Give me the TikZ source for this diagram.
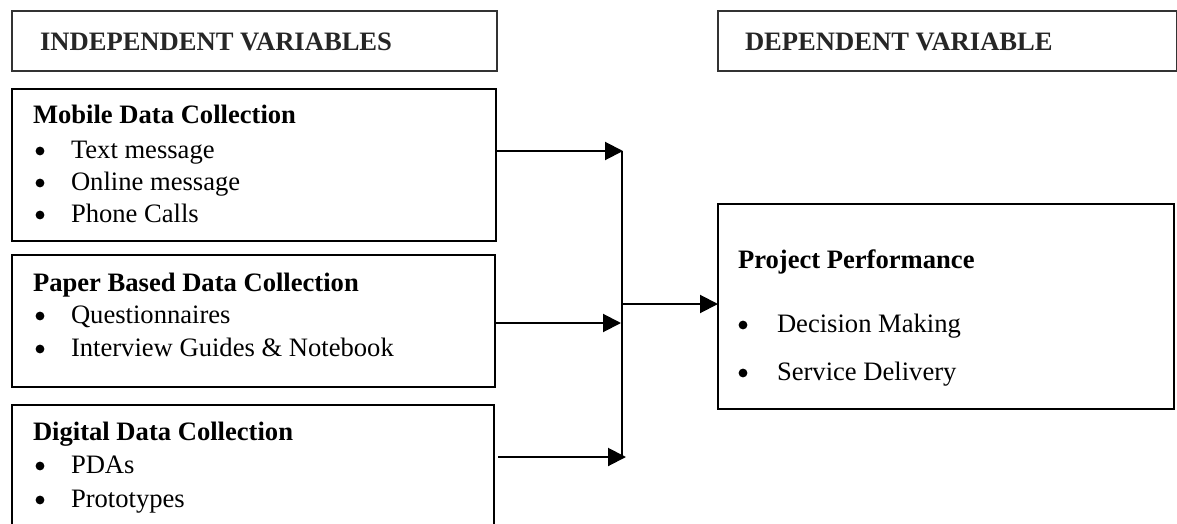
\documentclass[tikz,border=0pt]{standalone}
\usepackage{fontspec}
\setmainfont{Liberation Serif}
\usetikzlibrary{arrows.meta,fit}
\begin{document}
\begin{tikzpicture}[x=0.5pt,y=-0.5pt,
  every node/.style={font=\fontsize{13.3}{16}\selectfont},
  hbox/.style={draw=black!80, line width=0.6pt, inner sep=0pt, outer sep=0pt},
  vbox/.style={draw=black, line width=0.8pt, inner sep=0pt, outer sep=0pt},
  txt/.style={anchor=base west, inner sep=0pt, outer sep=0pt},
  head/.style={txt, font=\fontsize{13.3}{16}\selectfont\bfseries},
  bul/.style={circle, fill=black, inner sep=0pt, outer sep=0pt, minimum size=4.4pt},
  arr/.style={draw=black, line width=1pt, -{Triangle[length=9pt,width=9pt]}},
  conn/.style={draw=black, line width=1pt}]
\useasboundingbox (0,0) rectangle (1177,524);
\clip (0,0) rectangle (1177,524);
% header boxes
\node[hbox, fit={(12,11) (497,71)}] (indep) {};
\node[hbox, fit={(718,11) (1176.5,71)}] (dep) {};
\node[head, font=\fontsize{13.3}{16}\selectfont\bfseries\color{black!85}] (indept) at (40,51) {INDEPENDENT VARIABLES};
\node[head, font=\fontsize{13.3}{16}\selectfont\bfseries\color{black!85}] (dept) at (745,51) {DEPENDENT VARIABLE};
% variable boxes
\node[vbox, fit={(12,89) (496,241)}] (mob) {};
\node[vbox, fit={(12,255) (495,387)}] (pap) {};
\node[vbox, fit={(12,405) (494,560)}] (dig) {};
\node[vbox, fit={(718,204) (1174,409)}] (proj) {};
% mobile text
\node[head] (mobh) at (33,124) {Mobile Data Collection};
\node[bul] (mb1) at (40,151) {};
\node[txt] (mt1) at (71,158) {Text message};
\node[bul] (mb2) at (40,183) {};
\node[txt] (mt2) at (71,190) {Online message};
\node[bul] (mb3) at (40,215) {};
\node[txt] (mt3) at (71,222) {Phone Calls};
% paper text
\node[head] (paph) at (33,291) {Paper Based Data Collection};
\node[bul] (pb1) at (40,316) {};
\node[txt] (pt1) at (71,323) {Questionnaires};
\node[bul] (pb2) at (40,349) {};
\node[txt] (pt2) at (71,356) {Interview Guides \& Notebook};
% digital text
\node[head] (digh) at (33,440) {Digital Data Collection};
\node[bul] (db1) at (40,466) {};
\node[txt] (dt1) at (71,473) {PDAs};
\node[bul] (db2) at (40,500) {};
\node[txt] (dt2) at (71,507) {Prototypes};
% project text
\node[head] (projh) at (738,268) {Project Performance};
\node[bul] (jb1) at (743,325) {};
\node[txt] (jt1) at (777,332) {Decision Making};
\node[bul] (jb2) at (743,373) {};
\node[txt] (jt2) at (777,380) {Service Delivery};
% connectors
\coordinate (j1) at (623,151);
\coordinate (j2) at (621,323);
\coordinate (j3) at (626,457);
\coordinate (v1) at (622,151);
\coordinate (v3) at (622,457);
\coordinate (vo) at (622,304);
\coordinate (d3) at (498,457);
\draw[arr] (mob.east |- j1) -- (j1);
\draw[arr] (pap.east |- j2) -- (j2);
\draw[arr] (d3) -- (j3);
\draw[conn] (v1) -- (v3);
\draw[arr] (vo) -- (proj.west |- vo);
\end{tikzpicture}
\end{document}
